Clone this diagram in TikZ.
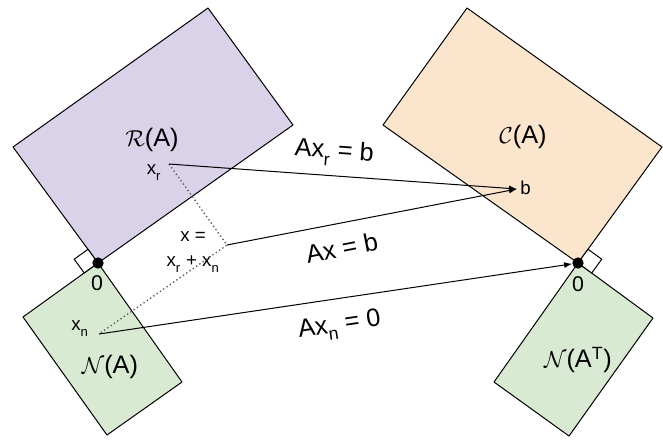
\documentclass[tikz,border=0pt]{standalone}
\usepackage{fontspec}
\setmainfont{Liberation Sans}
\usetikzlibrary{arrows.meta}
\definecolor{RowPurple}{HTML}{D9D2E9}
\definecolor{ColOrange}{HTML}{FCE5CD}
\definecolor{NullGreen}{HTML}{D9EAD3}
\newcommand{\lowsub}[1]{\textsubscript{\raisebox{-0.45ex}{#1}}}
\tikzset{
  subspace/.style={draw=black,line width=0.75pt,line join=round},
  rightangle/.style={draw=black,fill=white,line width=0.75pt},
  origin/.style={circle,fill=black,inner sep=0pt,minimum size=8.5pt},
  maparrow/.style={line width=0.75pt,-{Latex[length=6pt,width=4.5pt]}},
  splitline/.style={dotted,line width=1pt,black!65},
  biglabel/.style={inner sep=0pt,font=\fontsize{19}{22}\selectfont},
  smalllabel/.style={inner sep=0pt,font=\fontsize{14}{17}\selectfont},
}
\begin{document}
\begin{tikzpicture}[x=0.75pt,y=-0.75pt]
  \useasboundingbox (0,0) rectangle (663,440);

  % row space and null space of A
  \draw[subspace,fill=RowPurple] (98,263) -- (13,147) -- (208,8) -- (293,125) -- cycle;
  \draw[subspace,fill=NullGreen] (98,263) -- (23,317) -- (107,435) -- (182,382) -- cycle;
  \draw[rightangle] (98,263) -- (88,249.3) -- (74.2,259.2) -- (84.2,272.9) -- cycle;

  % column space and left null space
  \draw[subspace,fill=ColOrange] (578,263) -- (383,125) -- (467,8) -- (662,147) -- cycle;
  \draw[subspace,fill=NullGreen] (578,263) -- (653,318) -- (569,436) -- (494,382) -- cycle;
  \draw[rightangle] (578,263) -- (588,249.2) -- (601.7,259.2) -- (591.7,273) -- cycle;

  \node[origin] (zeroL) at (98,263) {};
  \node[origin] (zeroR) at (578,263) {};
  \node[smalllabel,font=\fontsize{16}{19}\selectfont] (zeroLlabel) at (97,283) {0};
  \node[smalllabel,font=\fontsize{16}{19}\selectfont] (zeroRlabel) at (578,284) {0};

  \node[biglabel] (rowA) at (152,140) {$\mathcal{R}$(A)};
  \node[biglabel] (nullA) at (110,367) {$\mathcal{N}$(A)};
  \node[biglabel] (colA) at (523,137) {$\mathcal{C}$(A)};
  \node[biglabel] (nullAT) at (578,360) {$\mathcal{N}$(A\textsuperscript{T})};

  \coordinate (xr) at (169,164);
  \coordinate (xs) at (227,245);
  \coordinate (xn) at (99,334);
  \coordinate (bpt) at (517,189);

  \node[smalllabel] (xrlabel) at (154,173) {x\lowsub{r}};
  \node[smalllabel] (xnlabel) at (80,329) {x\lowsub{n}};
  \node[smalllabel] (xeq) at (193,237) {x =};
  \node[smalllabel] (xsum) at (193,264) {x\lowsub{r} + x\lowsub{n}};
  \node[smalllabel,anchor=west] (blabel) at (520,188) {b};

  % splitting x into its two parts
  \draw[splitline] (xr) -- (xs) -- (xn);

  \draw[maparrow] (xr) -- node[biglabel,sloped,above=7pt,pos=0.47] {Ax\lowsub{r} = b} (bpt);
  \draw[maparrow] (xs) -- node[biglabel,sloped,below=11pt,pos=0.38] {Ax = b} (bpt);
  \draw[maparrow] (xn) -- node[biglabel,sloped,below=11pt,pos=0.5] {Ax\lowsub{n} = 0} (zeroR);
\end{tikzpicture}
\end{document}
